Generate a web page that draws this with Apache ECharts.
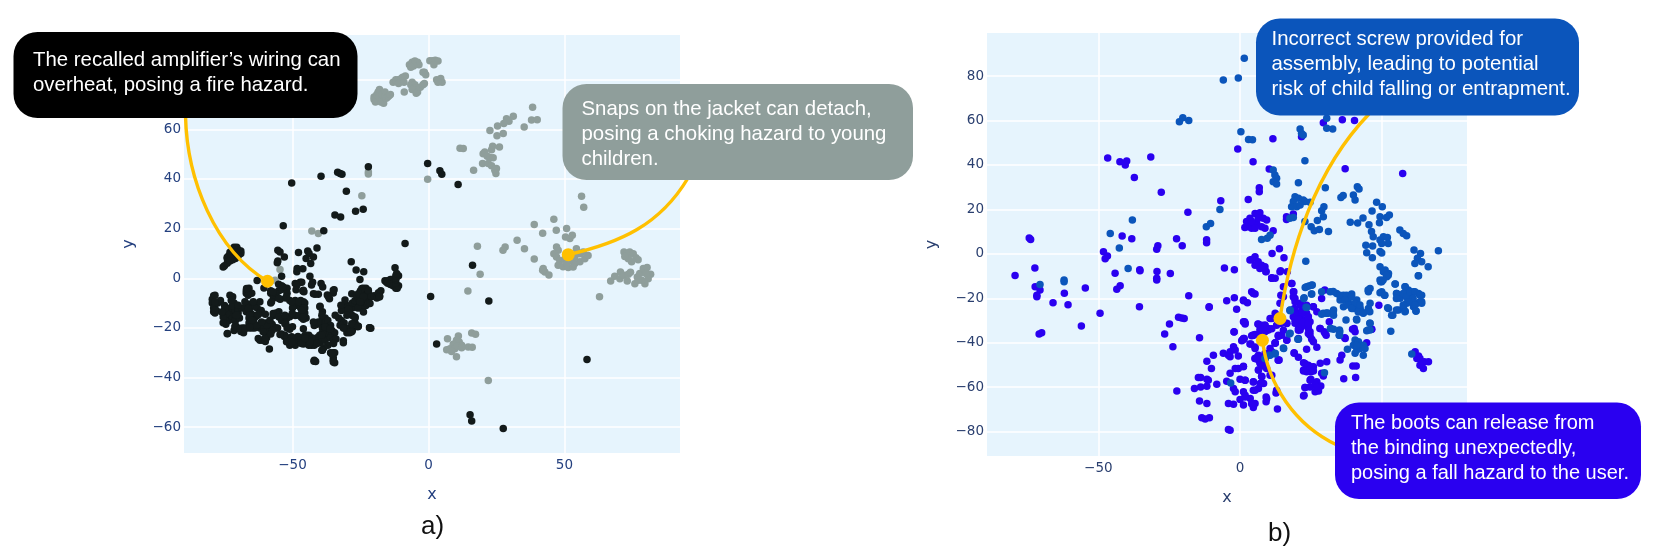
<!DOCTYPE html>
<html>
<head>
<meta charset="utf-8">
<title>hazard clusters</title>
<style>
html,body{margin:0;padding:0;background:#fff;}
#main{width:1661px;height:560px;}
</style>
<script src="https://cdn.jsdelivr.net/npm/echarts@6/dist/echarts.min.js"></script>
</head>
<body>
<div id="main"></div>
<script>
// panel a) grey cluster
var greyPoints = [
[-20,73],[-20,72],[-19.5,71],[-19,74],[-18.5,75],[-18,76],[-18,73],[-17.5,71],[-17,72],[-17,74],[-16.5,70.5],[-16,75],[-16,73],[-15.5,72.5],[-15,73],[-14.5,73.5],[-14,74],
[-13,79],[-12,80],[-11,80],[-10,80.5],[-9.5,81],[-8.5,81.5],[-11,78.5],[-9,79],[-8.9,75],
[-6,79],[-6.5,78],[-5,78],[-5,76.5],[-6,76],[-4.5,74.5],[-4,75],[-3,77],[-2,78],[-1.5,78.5],
[-7,86],[-6,87],[-5,87.5],[-4,87],[-3.5,86],[-5.5,85.5],[-6.5,85],[-2,83],[-1.5,83],[-1,82],
[0.5,87.6],[1.5,87.6],[2.5,87.8],[3.5,87.5],[2,86],[3,80],[4,79.5],[5,79],[4.5,80.5],[3.5,79],
[-42.9,19],[-40.5,18],[-54.6,3.5],[-56.4,-0.8],[-22.1,42.8],[-22.1,42],[-24.5,33.2],[-0.3,39.9],
[38.3,68.9],[37.9,63.8],[40,63.9],[35.2,60.9],[31.2,65.3],[28.7,64.3],[29.6,63.3],[27.7,62.3],[25.4,61.3],[22.6,59.5],[27.5,58.3],[25.2,57.4],
[23.6,53.2],[23.2,51.8],[26.1,52.9],[11.6,52.4],[12.8,52.3],
[20.1,50.2],[20.7,50.9],[21.6,49.2],[22.6,48.6],[23.8,48.5],[19.9,46.2],[22,46.2],[23.2,45.3],[25,44.2],[24.4,43.5],[24.8,42.2],[16.6,43.5],
[56.3,33],[57.1,28.6],[38.9,21.7],[46.1,23.8],[42,18.1],[47,19.3],[50.8,20],[50.4,16.6],[52,16],[52.9,17.3],[32.6,15.3],[18,12.9],[28.2,12.6],[27.4,11.3],[35.3,11.9],[38.9,7.8],
[47.1,12.6],[47.7,11.3],[46.1,9.9],[47.1,8.6],[48.3,7.2],[47.7,5.2],[49.5,4.6],[51.4,4.3],[53.2,4.5],[53.8,5.9],[55.7,6.6],[57.5,7.9],[58.7,9.2],[56.9,10.6],[54.4,11.9],[55.7,9.9],[52,7.2],[50.2,7.9],[50.8,5.9],[53.8,8.6],
[42.2,3.9],[42.8,2.5],[44.3,1.3],[42,3.2],
[71.9,10.6],[72.8,9.9],[74,10.6],[75.3,9.9],[76.3,8.3],[77.1,7.5],[74.7,6.6],[73.5,7.9],[72.2,8.8],
[67,-1.1],[68.5,0.8],[70.6,2.5],[70.4,-0.2],[71.9,1.2],[73.5,1.6],[73.1,-1.1],[74.3,2.4],[75.9,-2.2],[76.8,0.5],[77.7,1.9],[79,3.9],[80.4,4.3],[81.7,1.6],[80.8,-0.2],[79.6,-2.2],[78.4,-0.8],[80,1.9],[77.1,-0.8],
[19,1.6],[14.5,-5.1],[62.9,-7.5],
[7,-24.4],[11,-23.3],[15.9,-22.1],[17.3,-22.6],[10.3,-25],[11.3,-25.7],[9.1,-26.6],[12.2,-27],[6.7,-28.8],[7.9,-28.4],[9.7,-28.4],[10.6,-27.4],[8.5,-29.5],[10.3,-31.6],[14.6,-27.7],[16.1,-27.8],[12.2,-28],
[22,-41.2]
];
// panel a) black cluster
var blackPoints = [
[-50.3,38.4],[-39.5,41.1],[-33.4,42.7],[-32.5,42.2],[-31.8,41.9],[-22.1,44.9],[-30.2,35.1],[-24,27.8],[-26.8,27],[-34.4,25.5],[-32.3,24.7],[-53.4,21.2],[-38.5,19.1],[-8.6,14],[-0.3,46.2],[4.2,43.3],[4.9,41.9],[10.9,37.8],[0.8,-7.4],[16.2,5.2],[22.2,-9.2],[3,-26.5],[58.3,-32.7],[15.3,-55],[15.9,-57.5],[27.5,-60.5],
[-75.5,4.5],[-75,5],[-74,6],[-74,8],[-74,8.5],[-73.5,9],[-73,10.5],[-72,11],[-71.5,12.5],[-70.5,12.5],[-70,11.5],[-69,11],[-69,10],[-70,9],[-71,8],[-72,7.5],[-72.5,9],[-71,10.5],[-73,7],
[-79,-7],[-79.5,-8.5],[-79.5,-10],[-78.5,-10.5],[-79,-12],[-78,-13],[-77.5,-10],[-76.5,-9],[-79,-13.5],[-78.5,-14],[-75,-11],[-75,-13],[-74.5,-14.5],[-75,-15.5],[-74,-16],[-73,-12],[-73,-14],[-73.5,-17],[-72,-16.5],[-72.5,-15],[-71,-15],[-71,-13],[-72,-7.5],[-72.5,-9],[-71.5,-10],[-72,-11],[-71,-17],[-70,-14],[-69.5,-16],[-70,-12],[-68.5,-12],[-67.5,-12],[-66.5,-11],[-67,-13.5],[-66,-14],[-65,-14.5],[-65.5,-12],[-66,-10.5],[-64,-11],[-63,-12],[-62,-9.5],[-61.5,-13],[-62,-14],[-63,-15],[-64,-16],[-64.5,-17],[-66,-16],[-66,-18],[-64,-18.5],[-60,-14.5],[-67,-6],[-67,-5],[-66,-4],[-66,-5.5],[-65.5,-6],[-65,-6],
[-74.5,-18.5],[-74,-22.4],[-71,-19],[-71.5,-21],[-70,-20],[-69,-21.5],[-68,-22],[-68.5,-20],[-67.5,-20],[-66,-20],[-65,-20],[-64,-20],[-63,-19.5],[-62,-20],[-61,-19],[-60,-20],[-60,-18],[-59,-18],[-58,-19],[-58,-20],[-57.5,-18.5],[-57,-19.5],[-56,-20],[-55.5,-20],[-60,-21],[-59,-22],[-58.5,-21.5],[-57.5,-21],[-59.5,-24],[-61,-25],[-62,-25],[-60,-25.5],[-60,-24],[-58,-22.5],[-58.5,-28.5],
[-58,-10],[-58,-6],[-58,-5],[-57,-7],[-57,-8],[-56,-6],[-55,-5],[-54.5,-8.5],[-54,-3],[-54,-4.5],[-52,-4],[-52,-6],[-52.5,-8],[-51,-9],[-50,-10],[-49,-9],[-49,-11],[-48,-10],[-47,-9],[-46.5,-10],[-46,-9.5],[-45.5,-10],[-50,-12],[-47,-12],[-45.5,-12],[-45.5,-14],[-45,-16],[-46,-16.5],[-55,-13.5],[-56,-14],[-57,-15],[-54,-17],[-52,-16],[-51,-15.5],[-49,-15],[-47.5,-15],[-52.5,-18],[-52,-20],[-51,-20.5],[-50,-19.5],[-54,-22.5],[-53,-23.5],[-52,-24],[-51,-25],[-51,-27],[-50,-26],[-49,-26],[-49,-27],[-48,-25],[-48,-23.5],[-47,-24],
[-55.4,11.3],[-54.6,10.6],[-53,8.6],[-55.4,7],[-55.6,6.2],[-47.8,10.4],[-44.4,11],[-43.9,10],[-45,8],[-42.3,8.6],[-43.3,5.9],[-41,12.2],[-48.3,3.9],[-46.2,3.8],[-48.4,2.6],[-43.6,0.8],[-54,0.8],[-63,-0.9],[-60.5,-3.9],[-55.1,-2.4],[-53.4,-3.5],[-49,-2.1],[-47.2,-1.6],[-46.6,-1.6],[-48.4,-2.8],[-48.7,-4.6],[-46.2,-5.1],[-45.8,-5.4],[-42.6,-1.6],[-43,-2.7],[-39.5,-2.1],[-38.9,-3.5],[-42.3,-6.2],[-40.5,-6.4],[-37.2,-6.7],[-34.7,-4.6],[-35,-5.9],[-36.4,-8.3],
[-39.9,-11.3],[-39,-13.5],[-38,-16],[-39,-16],[-40,-18],[-38,-18],[-37,-17],[-36,-19],[-41,-18.5],[-42,-19],[-39,-20],[-38,-20],[-37,-20],[-35.5,-21],[-36,-22.5],[-34.5,-22],[-37,-23],[-38,-22],[-39,-22],[-40,-23],[-41,-24],[-42,-25],[-43,-24],[-44,-23],[-45,-23],[-44,-25],[-45,-26],[-46,-26.5],[-47,-26],[-44,-27],[-43,-27],[-42,-27],[-40,-26],[-39,-25],[-38,-25],[-36,-24],[-35,-25],[-34,-24.5],[-37,-27],[-38.5,-28],[-39,-29],[-36,-30],[-35,-30],[-34.5,-30],[-35,-32],[-35,-33],[-34.5,-34],[-42,-33],[-41.5,-33.5],
[-33,-16],[-32,-17],[-31,-18],[-31,-20],[-30,-22],[-29,-20],[-28,-21],[-26,-19.5],[-27,-18],[-27,-16],[-28,-15],[-29,-14],[-30,-13],[-30,-11],[-31,-12],[-32,-13],[-28,-12],[-28,-10],[-27,-10],[-27,-9],[-26,-8],[-26,-7],[-25,-6],[-25,-5],[-24,-5],[-24,-4],[-23,-4],[-23,-7],[-24,-8],[-24,-9],[-23,-10],[-23,-11],[-22,-6],[-22,-8],[-25,-10],[-25,-12],[-26,-12],[-22,-10],[-21,-7.5],[-20,-7],[-19,-8],[-18,-7],[-17.5,-5],[-18,-7.5],
[-28.4,6.6],[-26.6,3.3],[-23.8,2.6],[-25.2,-0.5],[-16,-1],[-15.5,-1.5],[-15,-1],[-14,-0.5],[-13.5,-0.5],[-13,-2],[-15,-2],[-14,-2.5],[-13,-3],[-12,-4],[-11.5,-4],[-11,-3],[-12,-2],[-12,-0.5],[-11,1],[-12,0],[-12,1],[-12.3,4.2],[-11.7,1.9],
[-21.7,-19.9],[-21.2,-20.1],[-25.9,-19.3],[-28.2,-21.6],[-29,-22],[-31.3,-25.2],[-31.3,-26],
[-61.4,-19.6],[-63.2,-18.9],[-59.5,-18.9],[-61.4,-17.6],[-60.8,-21.6],[-62.6,-24.3],[-71.2,-19.6],[-69.3,-20.3],[-67.5,-20.3],[-65.7,-19.6],[-74.2,-14.2],[-75.5,-15.6],[-74.8,-12.2],[-76,-13.6],[-70.6,-14.9],[-70,-10.9],[-67.5,-9.5],[-66.3,-6.8],[-66.9,-4.1],[-64.4,-9.5],[-66.3,-12.2],[-65.7,-14.9],[-65,-16.9],[-62.6,-14.6],[-73,-6.8],[-72.4,-8.8],[-78.5,-6.8],[-78.5,-9.5],[-78.5,-12.9],[-75.5,-17.9],[-73.9,-22.3],
[-57.7,-9.5],[-57.1,-5.5],[-55,-8.2],[-57.1,-14.2],[-58.3,-16.9],[-55,-15.6],[-52.8,-14.9],[-50.1,-14.2],[-52.8,-18.3],[-51.8,-19.6],[-46.7,-15.8],[-46,-12.2],[-47.9,-9.5],[-50.3,-9.5],[-52.2,-7.5],[-52.8,-23],[-54.6,-22.7],[-50.3,-23.6],[-52.2,-25.6],[-50.3,-25.9],[-46,-20.3],[-45.4,-23],[-46.7,-26.3],[-43.6,-26.3],
[-24.5,-4.1],[-25.8,-6.2],[-23.9,-7.5],[-25.1,-9.5],[-22.1,-4.8],[-28.2,-6.2],[-30.7,-8.8],[-32.2,-10.9],[-29.4,-12.5],[-30,-14.9],[-27,-15.6],[-23.9,-13.6],[-21.5,-10.2],[-18.4,-5.8],[-18,-7.5],[-34.3,-14.9],[-32.5,-18.9],[-31.3,-20],[-28.2,-18.3],[-25.8,-19.3],[-21.6,-19.9],[-28.6,-21.6],[-39.2,-14.9],[-40.5,-17.6],[-42.3,-17.6],[-38,-19.6],[-36.2,-20.3],[-39.2,-23],[-34.9,-26.3],[-43.5,-25.6],[-45.4,-24.3],[-41,-26.3],[-39.2,-29],[-35.6,-30.4],[-35,-33.7],[-42.1,-33.4],[-39.9,-11.5],[-46.6,-12.9],[-46.2,-15.6],[-46,-4.8],[-41.7,-6.4],[-36.8,-7.5],[-35,-4.8]
];
// panel b) purple cluster
var purplePoints = [
[-74.4,7.1],[-73.9,6.5],[-72.4,-6.4],[-79.4,-9.7],[-46.7,43.1],[-42.4,41.5],[-40,41.8],[-40.5,40],[-37.3,34.4],[-31.5,43.6],[-27.8,27.7],[-18.4,18.7],[-6.8,23.9],
[-41.6,8],[-38.2,6.8],[-22.4,6.8],[-20.4,3.6],[-29,3.6],[-29.4,2.1],[-48.2,0.9],[-46.8,-1],[-47.6,-2.2],[-44.1,-8.7],[-35.4,-7.2],[-29.3,-7.9],[-24.6,-8.8],[-29.4,-11],[-11.8,6.3],[-11.8,5],[-5.5,-6.4],[-2,-7.2],[-0.8,47.2],
[29.4,59],[36.1,60.3],[40.4,60],[11.6,51.8],[21.7,52.7],[4.6,41.5],[10.3,38.2],[37.1,38.3],[57.4,36.2],[6.8,29.8],[6.8,28],[2.9,24.5],[16.4,16.7],[16.4,15.5],[18.8,17.9],
[5.3,18.2],[7,18.5],[8.2,16],[9.4,15.2],[3.5,16],[2.3,14.5],[1.7,11.9],[2.9,12.2],[4.1,11.5],[5.9,13.7],[7.6,12.2],[8.8,11.5],[4.7,13.7],[6.4,16],[4.1,14.5],[5.3,11.5],[11.7,10.4],[13.9,2.3],[11.3,0.2],[15.5,-1.8],
[4.1,-2.5],[5.3,-1.3],[6.4,-3.6],[7.6,-5.1],[8.8,-5.8],[9.2,-8],[5.3,-5.1],[7,-6.6],[3.5,-2.8],[14.3,-7.6],[11.2,-10.8],
[-72.3,-14.8],[-70.6,-16.3],[-71.7,-18.6],[-71.7,-19.3],[-66,-22],[-62,-17.7],[-60.7,-22.9],[-54.6,-15.4],[-56,-32.5],[-70.9,-36.1],[-70,-35.5],
[-35.3,-7.6],[-29.4,-11.8],[-43.5,-15.9],[-42.3,-14.4],[-49.4,-26.7],[-35.5,-23.8],[-18.1,-18.9],[-10.9,-24],[-24.9,-31.6],[-26.6,-36.1],[-23.7,-41.8],[-21.7,-28.6],[-20.6,-28.9],[-19.7,-29.1],[-14.3,-37.8],[-22.3,-61.7],
[-11.7,-48.4],[-9.4,-45.7],[-10.1,-51.6],[-5.9,-44.8],[-4.1,-45.6],[-3.5,-44.1],[-2.3,-41.8],[-1.7,-43.3],[-3.5,-46.3],[-0.6,-46],
[-14.7,-55.7],[-13.9,-55.7],[-16.1,-60.6],[-13.9,-59.9],[-11.7,-56.5],[-11.2,-56.9],[-11.7,-59.6],[-8.2,-58.7],[-14.3,-66.2],[-11.7,-67.4],[-13.5,-73.8],[-12.3,-74.4],[-10.8,-73.8],[-4.1,-79.1],[-3.5,-79.4],
[-3.5,-53.8],[-1.7,-51.6],[-0.6,-51.6],[1.2,-50.8],[0,-56.5],[1.8,-56.9],[4.7,-57.6],[-4.7,-57.3],[-2.3,-60.6],[-1.7,-62.1],[1.2,-62.1],[1.8,-63.6],[3.6,-65.1],[5.3,-67.4],[4.7,-69.2],[1.2,-68.1],[-4.1,-67.4],[-2.3,-67.7],[0,-65.6],[7.1,-58.4],[8.3,-58.4],[4.7,-61.4],[6.5,-60.6],[9.2,-64.4],[9.2,-66.6],[13,-62.1],[13.2,-69.9],[7.7,-55.3],
[-4.7,-21.1],[-2,-19.8],[-1.2,-25],[1.2,-20.8],[2.6,-22],[4.1,-17.1],[5.3,-18.1],[1.6,-30.6],[1.8,-31.6],[-2.1,-35.2],[1.2,-38.1],[0.6,-39.1],[4.1,-36.9],[5.3,-36.3],[3.8,-40.6],[5.3,-42.6],
[6.3,-31.6],[7.1,-34],[8.8,-32.1],[10,-34.3],[10.6,-29.1],[8.3,-35.1],[12.4,-26.8],[14.7,-31.3],[16.5,-31.3],[13.6,-37],[14.7,-36.6],[12.4,-40.3],[16.5,-38.8],[19.1,-44.8],[20.6,-46.6],[13.8,-47.8],
[5.3,-47.1],[6.5,-47.8],[7.1,-49.3],[8.3,-50.1],[6.5,-52.3],[9.4,-51.6],[10.6,-42.6],[11.2,-44.1],[11.2,-54.6],[14.4,-18.6],[11.2,-11],[18.8,-17.1],[19.4,-20.1],[18.8,-28.3],[20,-30.6],[20.6,-26.8],[21.2,-22.3],
[61.8,-44.1],[63,-46],[63.5,-47.1],[65,-48.6],[66.5,-48.6],[64.7,-51.6],[63.5,-50.1],[62.4,-47.1],
[49,-23.1],[46.5,-34],[44.7,-40],[40.3,-33.6],[40.6,-35.1],[37.1,-38.1],[35.9,-45.6],[35.3,-47.8],[39.8,-50.5],[41,-50.5],[36.6,-56.2],[40.8,-55.7],
[28.3,-33.6],[29.7,-35.1],[30.4,-36.6],[27.1,-42.1],[23.5,-43],[19.1,-44.5],[22.4,-49],[24.1,-50.1],[25.9,-50.8],[25,-53.1],[23.5,-53.1],[22.4,-52.3],[25.3,-51.6],[28.3,-49.3],[30.6,-48.6],[28.8,-53.8],[29.4,-55],
[25,-56.5],[27.1,-57.6],[28.5,-59.5],[26.5,-59.1],[24.7,-59.9],[23,-60.2],[22.6,-63.6],[26.5,-62.1],[27.7,-61.7],
[19.4,-26.1],[21.2,-23.1],[23.5,-23.1],[25.9,-23.8],[27.1,-26.1],[23.5,-26.8],[21.2,-28.3],[23,-29.8],[24.7,-30.6],[19.4,-29.8],[20.6,-33.6],[21.2,-34.3],[24.1,-32.1],[24.7,-35.1],[25.3,-38.5],[25.9,-39.6],[20.6,-38.1],[19.2,-24.6],[18.8,-19.3],[19.4,-21.6],[31.5,-30.6],
[11.2,-11],[12.4,-11],[4.7,-17.8],[1.2,-21.1],[-10.9,-23.8],[15.3,-14.8],[15.3,-19.3],[14.1,-22.3],[18.3,-13.3],[16.7,-8.1],[14.1,-8.1],[9.1,-8.1],
[11.2,-29.1],[7.7,-32.1],[8.8,-35.1],[7.1,-35.8],[10,-33.6],[14.1,-31.3],[13.5,-36.6],[1.2,-30.6],[-2.1,-35.1],[0.8,-38.8],[1.5,-38.1],[4.7,-36.6],[3.5,-40.6],[12.4,-40],[5.3,-47.1],[6.5,-45.6],[7.1,-49.3],[6.5,-52.3],[8.8,-50.8],[13.5,-47.8],[10.6,-54.6],[12.9,-61.4],[12.7,-62.6],
[29.9,-16.3],[28.8,-20.1],[19,-17.1],[19,-19.6],[18.2,-13.3],[21.7,-23.1],[25.8,-23.8],[20,-26.8],[22.3,-26.8],[24.1,-28.3],[21.1,-29.8],[23.5,-30.6],[19.4,-31.3],[21.7,-32.8],[24.1,-33.6],[28.2,-33.6],[30,-35.8],[39.7,-34],[46.4,-34],[37,-37.8],[24.7,-36.6],
[1.8,-31.1],[6.5,-31.7],[8.8,-32.2],[7.1,-34.4],[9.4,-34.4],[11.2,-33.7],[12.9,-32.2],[16.5,-31.4],[15.3,-34.4],[13.5,-37.1],[12.4,-40.1],[4.5,-36.7],[1.2,-38.6],[16.5,-38.9],[5.3,-41.9],[8.8,-44.9],[5.9,-46.7],[7.1,-47.9],[8.8,-50.2],[13.5,-47.9],[1.2,-50.6],[7.6,-55.1],[1.8,-56.9],[4.7,-57.7],[7.6,-58.4],[5.3,-61.4],[9.4,-65.2],[1.8,-64.4],[4.1,-67.5],
[19.4,-26.9],[20.6,-29.2],[22.4,-30.7],[24.1,-28.4],[24.1,-31.4],[20.6,-34.4],[24.1,-35.9],[21.8,-25.4],[22.9,-49.4],[25.3,-50.9],[22.4,-52.7],[25.9,-52.7],[24.7,-56.9],[22.9,-60.2],[27.1,-60.2],[22.4,-64]
];
// panel b) blue cluster
var bluePoints = [
[-45.8,9.2],[-42.6,2.6],[-38,15.2],[-39.5,-6.6],[-21.4,59.5],[-20.2,61.2],[-18.1,60],[-11.9,12.2],[-10.4,13.7],[-7.1,19.9],[-5.9,78.3],[-0.6,79.2],[1.5,88],[-62.1,-11.8],
[0.3,55],[3,51.5],[4.4,51.3],[22.9,41.9],[30.6,61],[30.6,56.5],[32.7,56.2],[21.2,56.2],[21.7,54.2],[22.3,53.5],
[11.7,37.7],[12.3,35.5],[12.9,34],[11.7,32.5],[12.9,31.4],[20.6,32],[30.1,29.8],[35.6,25.4],[36.4,26.2],[40,26.5],[40.6,24.2],[41.4,30.2],[42,29.2],
[48.2,23.2],[50.2,21.2],[46.6,19.3],[49.4,16.7],[51.7,16.4],[52.7,17.5],[49.2,14],[43.4,16.1],[41.5,13.9],[38.9,14.2],[45.5,13.1],[46.4,10],[47,7.7],[49.4,6.2],[50.6,7.7],[52,7.4],[52.3,4.7],[50,4.7],[44.4,3.9],[46.8,3.5],[44.7,0.5],[49.4,1],[50,0.4],[46.7,-1.8],
[56.4,10.7],[57.6,9.2],[58.8,8.1],[61.4,1.7],[63.7,0.2],[62.6,-2],[64.1,-3.6],[61.7,-4.3],[66.4,-5.8],[70,1.4],[62.9,-9.9],
[19.4,25.7],[20.6,25],[22.3,24.2],[22.9,23.5],[24.7,23.2],[18.8,23.5],[18.2,21.2],[20,21.2],[21.2,22],[17.6,16],[18.8,16.4],
[29.6,21.2],[28.8,19.4],[29.4,16.7],[27.3,15],[22.9,14.5],[25.1,12.2],[26.2,10.4],[28,11],[31.2,10.1],
[7.6,6.5],[9.6,7],[10.6,8.4],[23.2,-3.3],[49.4,-5.8],[51.2,-7.3],[52.3,-9.6],[49.4,-11.8],
[-70.6,-13.8],[-62.1,-12.6],[17.7,-25.6],[20.4,-38.5],[17.4,-36.1],[15.4,-42.6],[12.4,-45.1],[10.6,-45.6],[8.9,-47.1],[-3.3,-58.1],
[31.8,-17.1],[34.1,-17.8],[36.5,-18.6],[39.4,-18.1],[37.7,-20],[35.3,-20.8],[38.3,-22.3],[40.6,-23.1],[42.4,-24.6],[40,-24.6],[41.8,-26.1],[43.5,-26.8],[45.3,-24.6],[45.9,-22.3],[36.5,-23.8],[38.3,-20],[41.2,-20.8],[33,-25.3],[31.2,-26.8],[29.4,-26.8],[33,-27.6],[45.9,-15.6],[45.3,-17.1],[50,-12.6],[51.8,-10.3],[52.4,-8.8],[50.6,-8.1],[49.4,-17.5],[51,-18.6],[54.7,-13.6],[58.3,-14.8],[59.4,-16.3],[61.2,-17.1],[63,-17.8],[64.1,-18.6],[60.6,-19.3],[58.8,-19.3],[55.3,-17.8],[56.5,-20],[60,-21.6],[62.4,-22.3],[63.5,-21.6],[64.1,-22.3],[61.2,-23.8],[62.1,-25.8],[58.3,-25.8],[55.9,-25.3],[53.9,-27.6],[52.4,-24.6],[63,-9.9],[58.8,-22.3],[57.7,-23.8],
[24.3,-14.5],[25.5,-14],[23,-15.1],[25.3,-18.1],[22.6,-19.8],[28.8,-17.1],[17.7,-25.3],[23.3,-24.1],[17.7,-35.8],[20.6,-38.4],[15.3,-42.4],[12.4,-44.8],[10.3,-45.6],[8.8,-47.1],
[37.4,-29.8],[41.2,-29.8],[45.9,-31.3],[45.9,-34.3],[44.7,-34.6],[53.2,-34.8],[35.1,-34.3],[35.1,-36.6],[32,-33.6],[33,-34],
[40.6,-38.8],[40,-41.1],[41.8,-39.6],[43.5,-41.1],[42.4,-42.6],[41.2,-43.3],[43.5,-45.6],[37.9,-43],[40.6,-44.8],[44.1,-42.6],[41.2,-41.1],[29.8,-53.5],[60.6,-45.1],
[32.9,-17],[35.2,-18.6],[37.6,-18.6],[39.4,-19.3],[37,-20.8],[38.2,-23],[40.5,-22.3],[42.3,-23],[39.4,-24.6],[41.7,-26.1],[43.5,-26.5],[45.8,-26.1],[41.1,-29.5],[32.9,-26.1],[30.5,-26.8],[45.2,-16.3],[50,-17.1],[51.1,-18.6],[49.6,-12.6],[51.7,-9.6],[50.5,-11.8],[54.8,-13.6],[58.2,-14.8],
[55.2,-17.8],[55.2,-20.1],[57.6,-17.8],[58.8,-19.3],[60,-17.1],[61.7,-17.1],[63.5,-18.6],[64.1,-21.6],[61.1,-20.1],[59.4,-21.6],[61.7,-23],[57.6,-23],[58.2,-26.1],[62.1,-25.6],[55.2,-25.3],[53.5,-27.6],[52.1,-24.3],
[45.8,-31.3],[45.2,-34.3],[35.2,-35.1],[35,-36.6],[31.9,-33.6],[25.2,-14.1],[23.5,-14.8],[25.2,-18.1],[22.5,-20.1],[17.6,-25.4],[23.5,-24.2],[30.6,-26.6],[28.8,-27.2]
];
// highlighted samples
var anchorsA = [[-59.2,-1.2],[51.4,9.5]];
var anchorsB = [[14.1,-29.1],[7.9,-38.9]];

var xTicks = [-50,0,50];
var yTicksA = [-60,-40,-20,0,20,40,60,80];
var yTicksB = [-80,-60,-40,-20,0,20,40,60,80];

var calloutTexts = [
	['The recalled amplifier\u2019s wiring can','overheat, posing a fire hazard.'],
	['Snaps on the jacket can detach,','posing a choking hazard to young','children.'],
	['Incorrect screw provided for','assembly, leading to potential','risk of child falling or entrapment.'],
	['The boots can release from','the binding unexpectedly,','posing a fall hazard to the user.']
];

var tickFont = 'DejaVu Sans';
var textFont = 'Liberation Sans';

function fmtTick(list){
	return function(v){
		return list.indexOf(v) < 0 ? '' : String(v).replace('-','\u2212');
	};
}
function makeX(idx,min,max,color){
	return {
		gridIndex:idx, type:'value', min:min, max:max, splitNumber:3,
		name:'x', nameLocation:'middle', nameGap:34,
		nameTextStyle:{color:color,fontFamily:tickFont,fontSize:16},
		axisLine:{show:false}, axisTick:{show:false},
		axisLabel:{color:color,fontFamily:tickFont,fontSize:13.5,margin:5,showMinLabel:false,showMaxLabel:false,formatter:fmtTick(xTicks)},
		splitLine:{show:true,showMinLine:false,showMaxLine:false,lineStyle:{color:'#fff',width:1.5}}
	};
}
function makeY(idx,min,max,color,ticks,split){
	return {
		gridIndex:idx, type:'value', min:min, max:max, splitNumber:split,
		name:'y', nameLocation:'middle', nameGap:47, nameRotate:90,
		nameTextStyle:{color:color,fontFamily:tickFont,fontSize:16},
		axisLine:{show:false}, axisTick:{show:false},
		axisLabel:{color:color,fontFamily:tickFont,fontSize:13.5,margin:3,showMinLabel:false,showMaxLabel:false,formatter:fmtTick(ticks)},
		splitLine:{show:true,showMinLine:false,showMaxLine:false,lineStyle:{color:'#fff',width:1.5}}
	};
}
function dots(idx,data,color,size,z){
	return {
		type:'scatter', xAxisIndex:idx, yAxisIndex:idx, data:data,
		symbolSize:size, silent:true, z:z, animation:false, large:false,
		itemStyle:{color:color,opacity:1}
	};
}

var chart = echarts.init(document.getElementById('main'),null,{renderer:'canvas'});
chart.setOption({
	backgroundColor:'#fff',
	animation:false,
	tooltip:{show:false},
	grid:[
		{left:184,top:35,width:496,height:418,show:true,backgroundColor:'#e6f4fd',borderWidth:0},
		{left:987,top:33,width:480,height:423,show:true,backgroundColor:'#e6f4fd',borderWidth:0}
	],
	xAxis:[makeX(0,-89.9,92.5,'#24407f'),makeX(1,-89.3,80.1,'#2a3f6f')],
	yAxis:[makeY(0,-70.4,98,'#24407f',yTicksA,8),makeY(1,-91,99.4,'#2a3f6f',yTicksB,9)],
	series:[
		dots(0,greyPoints,'#8f9e9b',7.5,3),
		dots(0,blackPoints,'#131a1a',7.5,4),
		dots(0,anchorsA,'#ffc000',13,30),
		dots(1,purplePoints,'#2a00f0',7.5,3),
		dots(1,bluePoints,'#0b55bb',7.5,4),
		dots(1,anchorsB,'#ffc000',13,30)
	]
});

// connector curves start on the highlighted samples, callouts go on top
function curve(pt,grid,cp1,cp2,end){
	var p = chart.convertToPixel({gridIndex:grid},pt);
	return {
		type:'bezierCurve', z:20, silent:true,
		shape:{x1:p[0],y1:p[1],cpx1:cp1[0],cpy1:cp1[1],cpx2:cp2[0],cpy2:cp2[1],x2:end[0],y2:end[1]},
		style:{stroke:'#ffc000',lineWidth:3.4,fill:null}
	};
}
function box(x,y,w,h,color,text,tx,ty,fs){
	return [
		{type:'rect',z:40,silent:true,shape:{x:x,y:y,width:w,height:h,r:24},style:{fill:color}},
		{type:'text',z:41,silent:true,x:tx,y:ty,style:{text:text.join('\n'),fill:'#fff',font:fs+'px "'+textFont+'"',lineHeight:24.6,textVerticalAlign:'top'}}
	];
}
function label(s,x,y){
	return {type:'text',z:41,silent:true,x:x,y:y,style:{text:s,fill:'#111',font:'26px "'+textFont+'"'}};
}
chart.setOption({
	graphic:[].concat(
		curve(anchorsA[0],0,[215,250],[187,180],[185.5,116]),
		curve(anchorsA[1],0,[620,243],[660,225],[688,178]),
		curve(anchorsB[0],1,[1290,250],[1315,170],[1369,114]),
		curve(anchorsB[1],1,[1268,385],[1295,425],[1337,445]),
		box(13.5,32,344,86,'#000',calloutTexts[0],33,48.5,20.4),
		box(562.5,84,350.5,96,'#8f9e9b',calloutTexts[1],581.5,97.5,20.4),
		box(1256,18.5,323,97,'#0b55bb',calloutTexts[2],1271.5,27.5,20.4),
		box(1335,402.5,306,96.5,'#2a00f0',calloutTexts[3],1351,411.5,20),
		label('a)',421,514),
		label('b)',1268,521)
	)
});
</script>
</body>
</html>
